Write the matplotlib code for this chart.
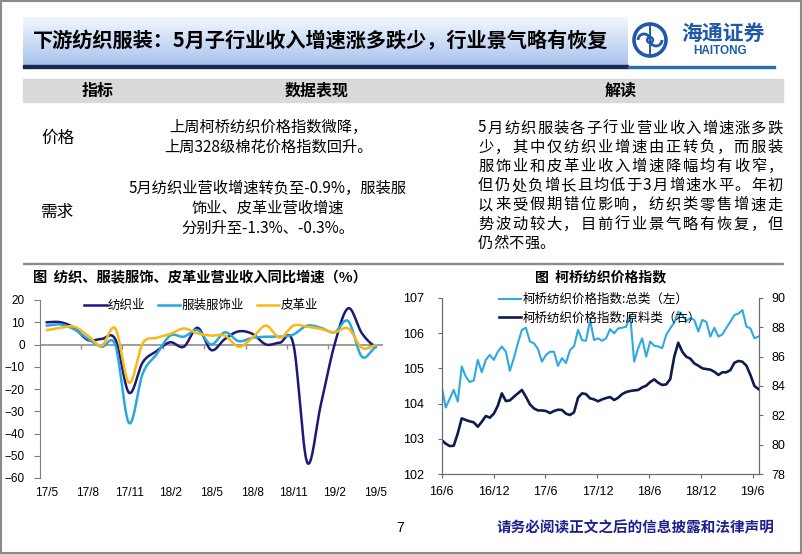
import numpy as np
import pandas as pd
import matplotlib
matplotlib.use('Agg')
import matplotlib.pyplot as plt
from matplotlib.patches import Rectangle, Circle, Arc
from matplotlib.colors import LinearSegmentedColormap

plt.rcParams['font.family'] = ['Noto Sans CJK SC', 'DejaVu Sans']

# ---- left chart: monthly YoY growth of operating revenue (%) ----
months = ['17/5', '17/6', '17/7', '17/8', '17/9', '17/10', '17/11', '17/12', '18/1',
          '18/2', '18/3', '18/4', '18/5', '18/6', '18/7', '18/8', '18/9', '18/10',
          '18/11', '18/12', '19/1', '19/2', '19/3', '19/4', '19/5']
textile = [10.0, 10.0, 7.5, 2.0, 2.5, 2.3, -21.7, -8.0, -3.0, 1.0, -1.0, 7.5, -2.5,
           2.5, 5.9, 4.8, 0.0, 0.8, 0.0, -53.0, -27.0, 0.0, 16.3, 5.0, -0.9]
apparel = [8.5, 9.0, 6.8, 2.5, -1.0, -0.3, -35.3, -13.0, -4.5, 4.0, 3.5, 6.5, 0.0,
           5.5, 1.5, 3.0, 3.5, 3.5, 4.5, 8.5, 7.5, 5.5, 10.5, -5.5, -1.3]
leather = [6.5, 7.5, 8.0, 4.0, -0.5, 7.2, -17.2, 0.5, 3.0, 4.7, 7.2, 5.0, 4.0,
           4.0, -1.0, 3.0, 8.5, 3.0, 8.5, 8.0, 7.0, 5.5, 7.2, -1.5, -0.3]
left_series = ['纺织业', '服装服饰业', '皮革业']

# ---- right chart: Keqiao textile price index (about every two weeks) ----
price_dates = pd.date_range('2016-06-01', '2019-06-21', periods=80)
price_total = [104.49, 103.89, 104.14, 104.39, 104.06, 105.05, 104.77, 104.61, 104.66, 105.24,
               104.89, 105.24, 105.38, 105.24, 105.47, 105.62, 105.47, 104.93, 105.29, 105.71,
               106.09, 106.15, 105.76, 105.71, 105.55, 105.19, 105.38, 105.47, 105.47, 105.07,
               105.29, 105.15, 105.52, 105.62, 106.09, 105.80, 105.78, 106.37, 105.80, 105.85,
               105.78, 105.85, 106.11, 105.99, 106.13, 106.15, 106.18, 106.51, 105.19, 105.57,
               105.85, 105.33, 105.76, 105.64, 105.62, 105.57, 105.95, 106.13, 106.30, 106.60,
               106.51, 106.34, 106.42, 106.37, 106.04, 106.37, 106.32, 105.90, 106.15, 105.90,
               105.96, 106.15, 106.32, 106.51, 106.55, 106.65, 106.18, 106.13, 105.85, 105.90]
price_raw = [80.33, 80.08, 79.92, 79.94, 80.78, 81.80, 81.69, 81.60, 81.53, 81.23,
             81.57, 81.96, 81.85, 82.12, 82.66, 83.50, 82.98, 83.02, 83.27, 83.50,
             83.73, 83.27, 82.75, 82.48, 82.34, 82.34, 82.30, 82.16, 82.30, 82.39,
             82.37, 82.12, 82.03, 82.21, 83.20, 83.50, 83.45, 83.16, 83.09, 82.96,
             83.09, 83.18, 83.25, 83.05, 83.20, 83.45, 83.59, 83.66, 83.70, 83.73,
             83.91, 84.02, 84.27, 84.45, 84.22, 84.07, 84.11, 84.47, 85.99, 86.94,
             86.33, 85.99, 85.86, 85.54, 85.38, 85.20, 85.15, 85.11, 84.97, 84.75,
             84.93, 84.93, 85.08, 85.58, 85.70, 85.65, 85.38, 84.75, 84.00, 83.79]
right_series = ['柯桥纺织价格指数:总类（左）', '柯桥纺织价格指数:原料类（右）']
right_ticks = ['16/6', '16/12', '17/6', '17/12', '18/6', '18/12', '19/6']

# ---- slide text ----
title = '下游纺织服装：5月子行业收入增速涨多跌少，行业景气略有恢复'
price_lines = ['上周柯桥纺织价格指数微降，', '上周328级棉花价格指数回升。']
demand_lines = ['5月纺织业营收增速转负至-0.9%，服装服', '饰业、皮革业营收增速', '分别升至-1.3%、-0.3%。']
comment_lines = ['5月纺织服装各子行业营业收入增速涨多跌',
                 '少，其中仅纺织业增速由正转负，而服装',
                 '服饰业和皮革业收入增速降幅均有收窄，',
                 '但仍处负增长且均低于3月增速水平。年初',
                 '以来受假期错位影响，纺织类零售增速走',
                 '势波动较大，目前行业景气略有恢复，但',
                 '仍然不强。']

W, H = 802, 554
fig = plt.figure(figsize=(W / 100, H / 100), dpi=100)

# background layer in pixel coordinates
bg = fig.add_axes([0, 0, 1, 1], zorder=0)
bg.axis('off')

grad = np.linspace(0, 1, 100).reshape(-1, 1)
cmap = LinearSegmentedColormap.from_list('hdr', ['#f3f7fd', '#a9c3ee'])
bg.imshow(grad, extent=(23, 628, 65, 17), cmap=cmap, aspect='auto', zorder=1)
bg.add_patch(Rectangle((23, 65), 605, 2.5, color='#1c2850', zorder=2))
bg.add_patch(Rectangle((628, 66), 147, 2, color='#2d6db5', zorder=2))
bg.text(33, 41, title, fontsize=14.5, fontweight='bold', va='center', ha='left', zorder=3)

# logo
blue = '#1e5aa8'
bg.add_patch(Circle((650, 40), 16, fill=False, ec=blue, lw=2.6))
bg.add_patch(Arc((644, 40), 12, 12, theta1=180, theta2=360, ec=blue, lw=2))
bg.add_patch(Arc((656, 40), 12, 12, theta1=0, theta2=180, ec=blue, lw=2))
bg.add_patch(Circle((650, 40), 3, fill=False, ec=blue, lw=1.6))
bg.plot([650, 650], [25, 55], color=blue, lw=1.4)
bg.text(723, 33, '海通证券', fontsize=15, fontweight='bold', color=blue, ha='center', va='center')
bg.text(720, 51.5, 'HAITONG', fontsize=8.5, fontweight='bold', color=blue, ha='center',
        va='center', family='Liberation Sans')

# table
bg.add_patch(Rectangle((23, 79), 760, 23, color='#d9d9d9', zorder=1))
for txt, xc in [('指标', 98), ('数据表现', 317), ('解读', 621)]:
    bg.text(xc, 91, txt, fontsize=11.5, fontweight='bold', ha='center', va='center', zorder=3)
bg.text(58, 138, '价格', fontsize=12, ha='center', va='center')
bg.text(58, 212, '需求', fontsize=12, ha='center', va='center')
for txt, y in zip(price_lines, [127, 147]):
    bg.text(268, y, txt, fontsize=11, ha='center', va='center')
for txt, y in zip(demand_lines, [188, 208, 228]):
    bg.text(268, y, txt, fontsize=11, ha='center', va='center')


def draw_justified(line, x0, x1, y, size, justify=True):
    em = size * 100 / 72
    widths = [0.55 * em if ord(c) < 128 else em for c in line]
    gap = (x1 - x0 - sum(widths)) / (len(line) - 1) if justify else 0
    x = x0
    for c, w in zip(line, widths):
        bg.text(x + w / 2, y, c, fontsize=size, ha='center', va='center')
        x += w + gap


for i, line in enumerate(comment_lines):
    draw_justified(line, 478, 783, 128 + i * 19.2, 11, justify=i < len(comment_lines) - 1)

bg.add_patch(Rectangle((23, 262.5), 760, 1.8, color='#8c8c8c'))

# chart titles
bg.text(33, 277, '图  纺织、服装服饰、皮革业营业收入同比增速（%）', fontsize=10.3, fontweight='bold',
        ha='left', va='center')
bg.text(601, 277, '图  柯桥纺织价格指数', fontsize=10, fontweight='bold', ha='center', va='center')

# footer and frame
bg.text(400, 528, '7', fontsize=10, ha='center', va='center', family='Liberation Sans')
bg.text(497, 527, '请务必阅读正文之后的信息披露和法律声明', fontsize=10.5, fontweight='bold',
        color='#1f1f8f', ha='left', va='center')
bg.add_patch(Rectangle((1, 1), 799.5, 551.5, fill=False, ec='#8a8a8a', lw=1.5))
bg.set_xlim(0, W)
bg.set_ylim(H, 0)


def smooth(y, n=16):
    # Bezier smoothing through the points, like office chart "smoothed line"
    y = np.asarray(y, float)
    p = np.concatenate([[y[0]], y, [y[-1]]])
    xs, ys = [], []
    t = np.linspace(0, 1, n, endpoint=False)
    for i in range(len(y) - 1):
        p0, p1, p2, p3 = p[i], p[i + 1], p[i + 2], p[i + 3]
        c1 = p1 + (p2 - p0) / 6
        c2 = p2 - (p3 - p1) / 6
        ys.append((1 - t) ** 3 * p1 + 3 * (1 - t) ** 2 * t * c1 + 3 * (1 - t) * t ** 2 * c2 + t ** 3 * p2)
        xs.append(i + t)
    xs.append([len(y) - 1])
    ys.append([y[-1]])
    return np.concatenate(xs), np.concatenate(ys)


tick_font = 'Liberation Sans'

# ---- left chart ----
axl = fig.add_axes([40 / W, 1 - 478 / H, 342.5 / W, 178 / H], zorder=2)
axl.patch.set_alpha(0)
axl.axhline(0, color='#8c8c8c', lw=1.2, zorder=1)
bounds = np.arange(2.5, 24, 3)
axl.plot(bounds, np.zeros(len(bounds)), ls='none', marker=3, ms=3, mew=1, color='#8c8c8c')
for vals, col, name in zip([textile, apparel, leather], ['#1b1a7a', '#29a8e0', '#fbb814'], left_series):
    sx, sy = smooth(vals)
    axl.plot(sx, sy, color=col, lw=1.8, label=name, zorder=3)
axl.set_xlim(-0.5, 24.5)
axl.set_ylim(-60, 20)
axl.set_yticks(range(-60, 21, 10))
axl.set_xticks(range(0, 25, 3), months[::3])
for s in ['top', 'right', 'bottom']:
    axl.spines[s].set_visible(False)
axl.spines['left'].set_color('#7f7f7f')
axl.tick_params(axis='y', length=4, color='#7f7f7f', labelsize=8.5, pad=7)
axl.tick_params(axis='x', length=0, labelsize=8.5, pad=6.5)
for lab in axl.get_xticklabels() + axl.get_yticklabels():
    lab.set_family(tick_font)
axl.legend(loc='upper left', bbox_to_anchor=(84 / W, 1 - 299 / H), bbox_transform=fig.transFigure,
           ncol=3, frameon=False, fontsize=9, handlelength=1.8, handletextpad=0.1,
           columnspacing=1.0, borderpad=0, borderaxespad=0)

# ---- right chart ----
axr = fig.add_axes([441.7 / W, 1 - 474.3 / H, 317.6 / W, 176.6 / H], zorder=2)
axr.patch.set_alpha(0)
l1, = axr.plot(price_dates, price_total, color='#2fa9e1', lw=1.5)
axr2 = axr.twinx()
l2, = axr2.plot(price_dates, price_raw, color='#0d1b4f', lw=1.9)
axr.set_xlim(pd.Timestamp('2016-06-01'), pd.Timestamp('2019-06-24'))
axr.set_ylim(102, 107)
axr2.set_ylim(78, 90)
axr.set_yticks(range(102, 108))
axr2.set_yticks(range(78, 91, 2))
axr.set_xticks(pd.to_datetime(['2016-06-01', '2016-12-01', '2017-06-01', '2017-12-01',
                               '2018-06-01', '2018-12-01', '2019-06-01']), right_ticks)
for a in (axr, axr2):
    a.spines['top'].set_visible(False)
    for s in ['left', 'right', 'bottom']:
        a.spines[s].set_color('#6b6b6b')
axr.tick_params(axis='y', length=3, color='#6b6b6b', labelsize=9, pad=9.5)
axr.tick_params(axis='x', length=3, color='#6b6b6b', labelsize=9, pad=5.5)
axr2.tick_params(axis='y', length=3, color='#6b6b6b', labelsize=9, pad=5.5)
for lab in axr.get_xticklabels() + axr.get_yticklabels() + axr2.get_yticklabels():
    lab.set_family(tick_font)
axr2.legend([l1, l2], right_series, loc='upper left', bbox_to_anchor=(499 / W, 1 - 293 / H),
            bbox_transform=fig.transFigure, frameon=False, fontsize=9, handlelength=1.75,
            handletextpad=0.1, labelspacing=0.45, borderpad=0, borderaxespad=0)

fig.savefig('out.png', dpi=100)
